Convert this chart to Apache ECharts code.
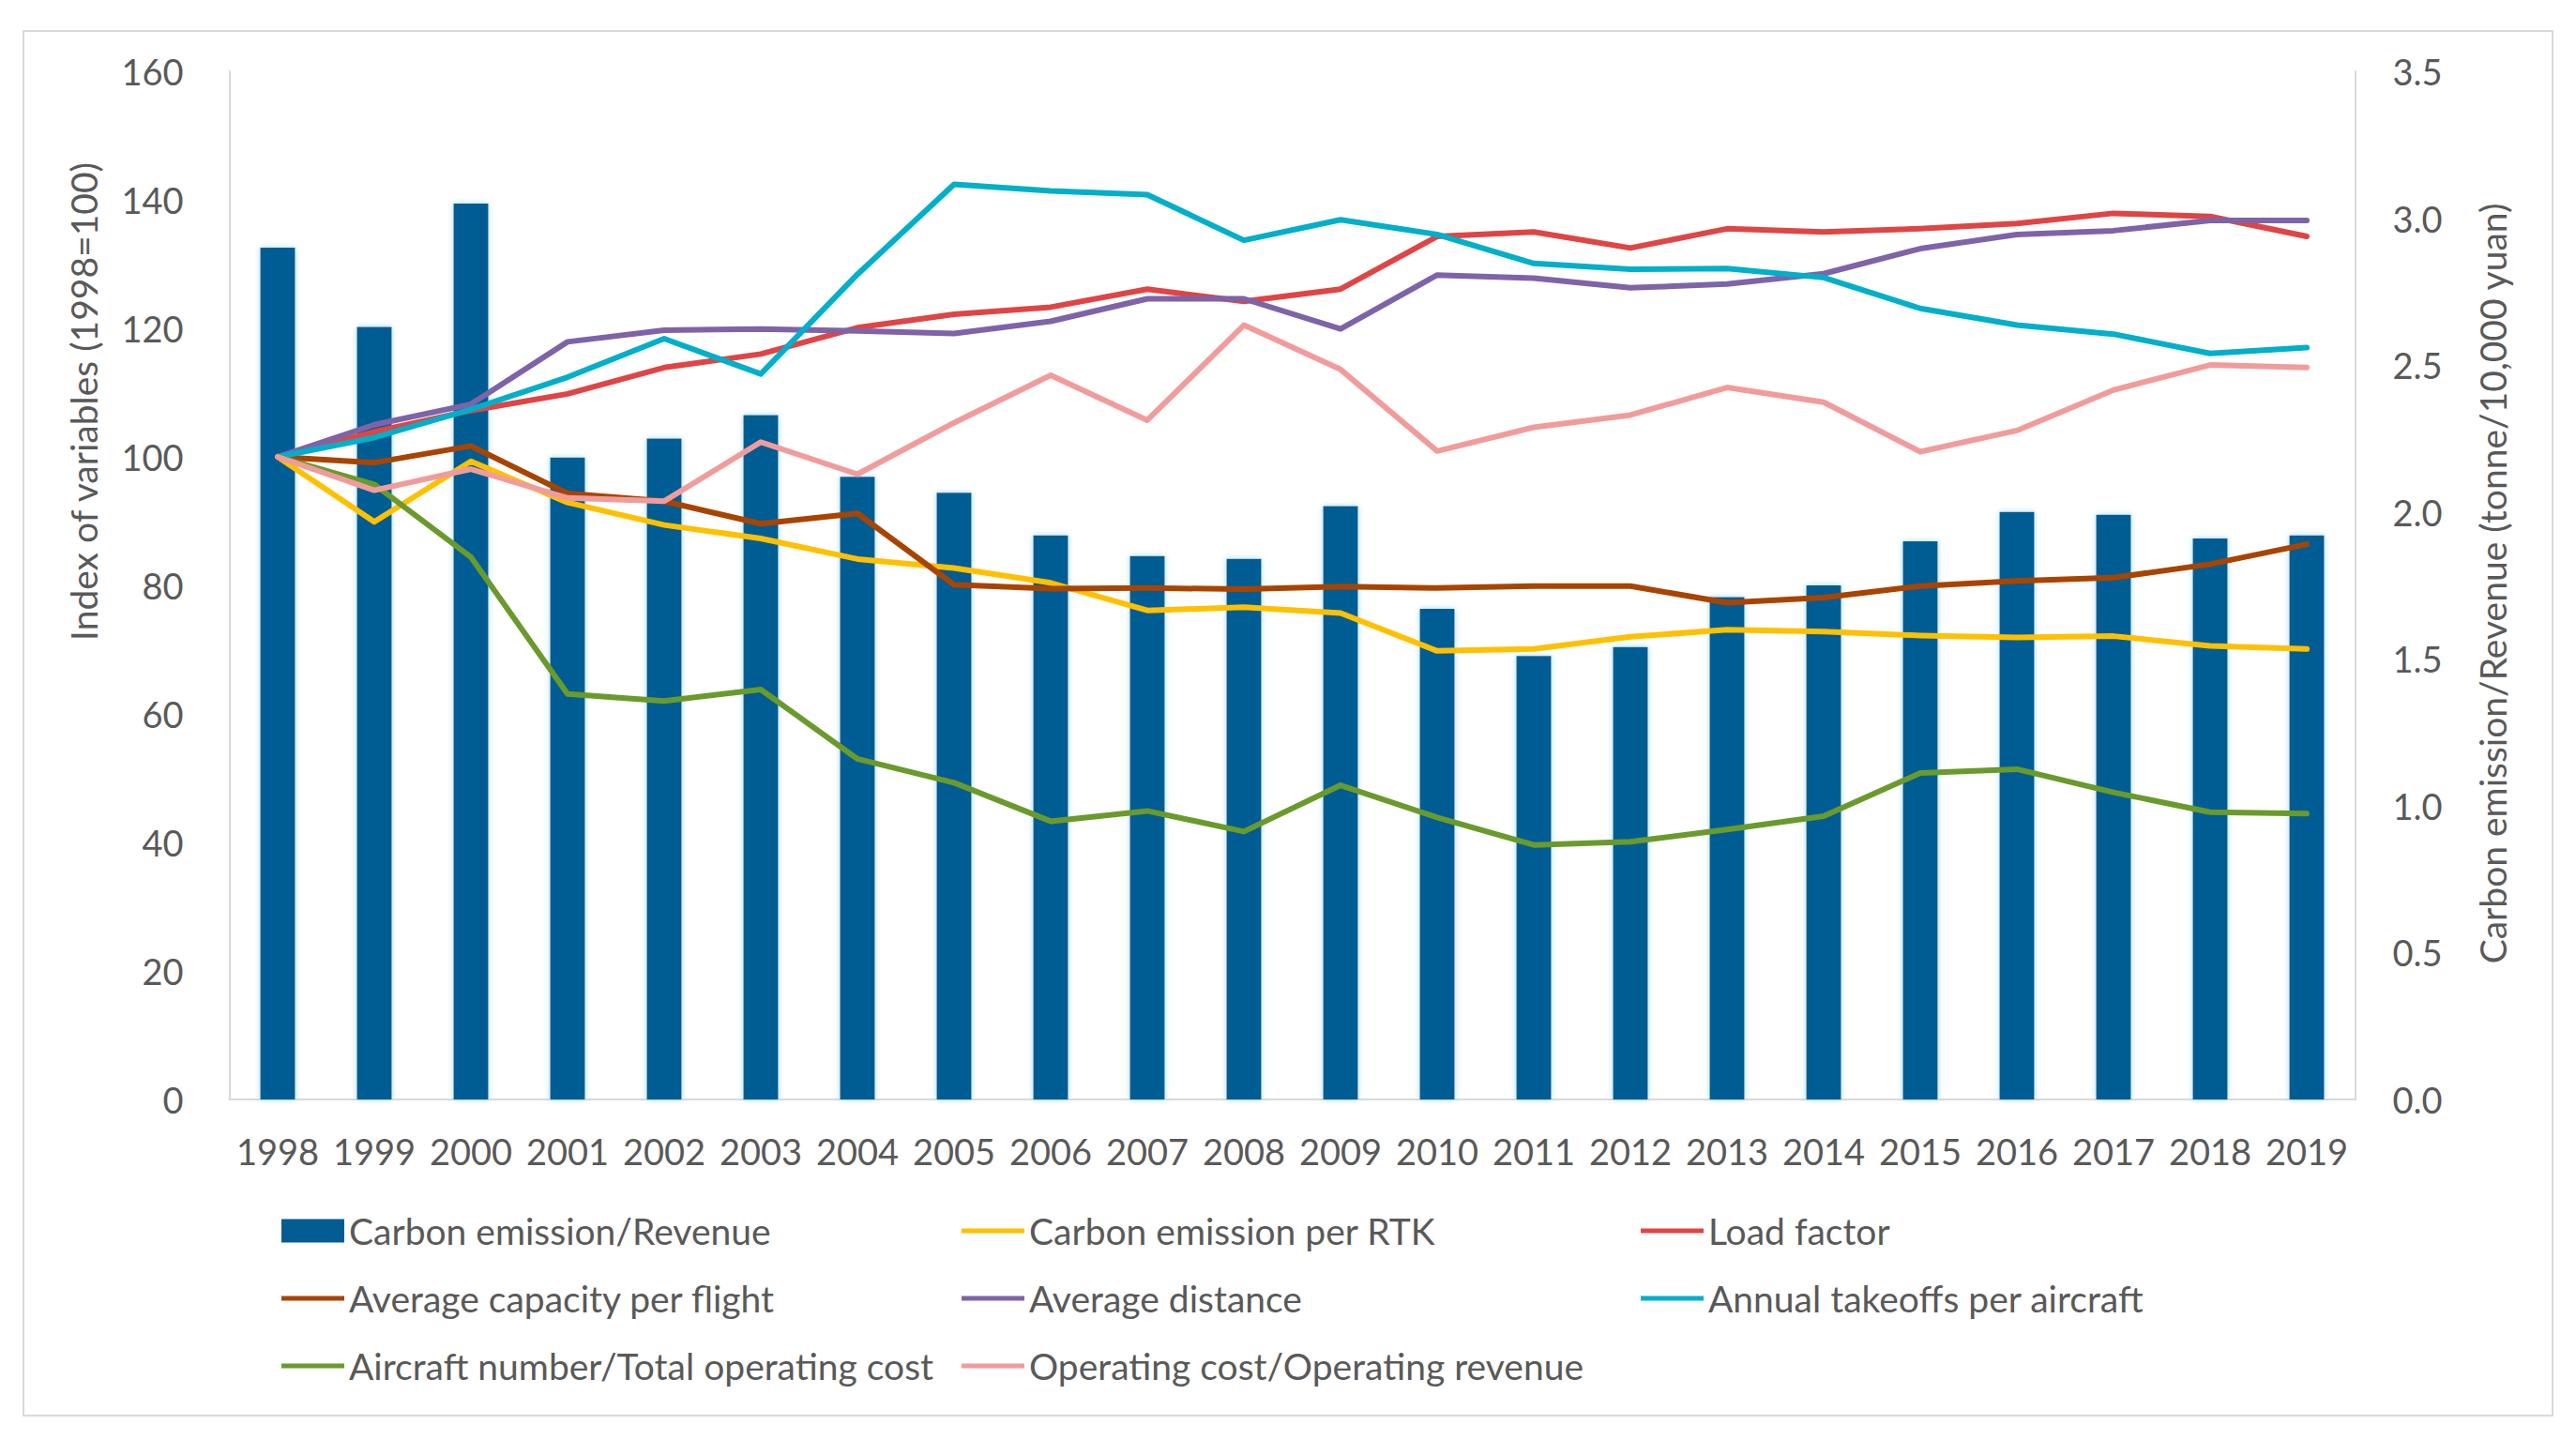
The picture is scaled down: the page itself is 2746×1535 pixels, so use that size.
<!DOCTYPE html>
<html>
<head>
<meta charset="utf-8">
<script src="https://cdn.jsdelivr.net/npm/echarts@6/dist/echarts.min.js"></script>
<style>
html,body{margin:0;padding:0;background:#fff;}
#chart{width:2746px;height:1535px;}
</style>
</head>
<body>
<div id="chart"></div>
<script>
const years = ['1998','1999','2000','2001','2002','2003','2004','2005','2006','2007','2008','2009','2010','2011','2012','2013','2014','2015','2016','2017','2018','2019'];
const leftTicks = [0,20,40,60,80,100,120,140,160];
const rightTicks = [0.0,0.5,1.0,1.5,2.0,2.5,3.0,3.5];

const carbonRevenue = [2.90, 2.63, 3.05, 2.185, 2.25, 2.33, 2.12, 2.065, 1.92, 1.85, 1.84, 2.02, 1.67, 1.51, 1.54, 1.71, 1.75, 1.90, 2.00, 1.99, 1.91, 1.92];
const carbonPerRTK = [100, 89.9, 99.3, 92.9, 89.4, 87.3, 84.1, 82.7, 80.4, 76.1, 76.6, 75.7, 69.8, 70.1, 72.0, 73.1, 72.8, 72.2, 71.9, 72.1, 70.6, 70.1];
const loadFactor = [100, 103.9, 107.2, 109.8, 113.9, 116.0, 120.1, 122.2, 123.3, 126.1, 124.2, 126.1, 134.3, 135.0, 132.5, 135.5, 135.0, 135.5, 136.3, 137.9, 137.4, 134.3];
const avgCapacity = [100, 99.1, 101.7, 94.3, 93.1, 89.6, 91.2, 80.1, 79.5, 79.6, 79.4, 79.8, 79.6, 79.9, 79.9, 77.3, 78.1, 79.9, 80.7, 81.2, 83.3, 86.4];
const avgDistance = [100, 105.0, 108.2, 117.9, 119.7, 119.9, 119.6, 119.2, 121.1, 124.6, 124.6, 119.9, 128.3, 127.8, 126.3, 126.9, 128.5, 132.4, 134.6, 135.2, 136.8, 136.8];
const takeoffs = [100, 103.0, 107.4, 112.4, 118.4, 112.9, 128.4, 142.4, 141.4, 140.8, 133.7, 136.9, 134.6, 130.1, 129.2, 129.3, 127.9, 123.1, 120.5, 119.1, 116.1, 117.0];
const aircraftCost = [100, 95.7, 84.4, 63.1, 62.0, 63.8, 53.0, 49.3, 43.3, 44.9, 41.7, 48.9, 43.9, 39.6, 40.1, 42.0, 44.1, 50.8, 51.4, 47.8, 44.7, 44.5];
const costRevenue = [100, 94.8, 98.1, 93.6, 93.1, 102.3, 97.3, 105.3, 112.7, 105.7, 120.5, 113.6, 100.9, 104.6, 106.5, 110.8, 108.5, 100.8, 104.1, 110.4, 114.3, 113.9];

const FONT = 'Lato, "Liberation Sans", sans-serif';
const TXT = '#595959';
const FS = 38;
const LINE_ICON = 'path://M0,0M67,25M0,10L67,10L67,15L0,15Z';

const chart = echarts.init(document.getElementById('chart'), null, {renderer: 'svg'});

function lineSeries(name, data, color) {
  return {
    name: name, type: 'line', data: data, yAxisIndex: 0,
    symbol: 'none', smooth: false, z: 3,
    lineStyle: {color: color, width: 6, cap: 'round', join: 'round'},
    itemStyle: {color: color}
  };
}
function lineItem(name) { return {name: name, icon: LINE_ICON}; }

const legendBase = {
  orient: 'vertical', top: 1287, itemWidth: 67, itemHeight: 25, itemGap: 32,
  textStyle: {color: TXT, fontSize: 39, fontFamily: FONT, lineHeight: 40},
  selectedMode: false
};

const option = {
  backgroundColor: '#ffffff',
  animation: false,
  textStyle: {fontFamily: FONT},
  grid: {left: 244.5, right: 235.5, top: 76, bottom: 363, containLabel: false},
  legend: [
    Object.assign({}, legendBase, {left: 295, data: [{name: 'Carbon emission/Revenue', icon: 'rect'}, lineItem('Average capacity per flight'), lineItem('Aircraft number/Total operating cost')]}),
    Object.assign({}, legendBase, {left: 1020, data: [lineItem('Carbon emission per RTK'), lineItem('Average distance'), lineItem('Operating cost/Operating revenue')]}),
    Object.assign({}, legendBase, {left: 1744, data: [lineItem('Load factor'), lineItem('Annual takeoffs per aircraft')]})
  ],
  xAxis: {
    type: 'category', data: years, boundaryGap: true,
    axisLine: {show: true, lineStyle: {color: '#d9d9d9', width: 2}},
    axisTick: {show: false},
    axisLabel: {color: TXT, fontSize: FS, fontFamily: FONT, margin: 36, interval: 0},
    splitLine: {show: false}
  },
  yAxis: [
    {
      type: 'value', min: leftTicks[0], max: leftTicks[leftTicks.length - 1], interval: 20,
      position: 'left',
      axisLine: {show: true, lineStyle: {color: '#d9d9d9', width: 2}},
      axisTick: {show: false},
      splitLine: {show: false},
      axisLabel: {color: TXT, fontSize: FS, fontFamily: FONT, margin: 49}
    },
    {
      type: 'value', min: rightTicks[0], max: rightTicks[rightTicks.length - 1], interval: 0.5,
      position: 'right',
      axisLine: {show: true, lineStyle: {color: '#d9d9d9', width: 2}},
      axisTick: {show: false},
      splitLine: {show: false},
      axisLabel: {color: TXT, fontSize: FS, fontFamily: FONT, margin: 40, formatter: v => v.toFixed(1)}
    }
  ],
  graphic: [
    {type: 'rect', shape: {x: 25, y: 33, width: 2696, height: 1476}, style: {fill: 'none', stroke: '#d9d9d9', lineWidth: 2}, silent: true, z: -10},
    {type: 'text', x: 89, y: 428, rotation: Math.PI / 2,
     style: {text: 'Index of variables (1998=100)', fill: TXT, fontSize: 39, fontFamily: FONT, align: 'center', verticalAlign: 'middle'}},
    {type: 'text', x: 2657, y: 622, rotation: Math.PI / 2,
     style: {text: 'Carbon emission/Revenue (tonne/10,000 yuan)', fill: TXT, fontSize: 39, fontFamily: FONT, align: 'center', verticalAlign: 'middle'}}
  ],
  series: [
    {
      name: 'Carbon emission/Revenue', type: 'bar', yAxisIndex: 1, data: carbonRevenue,
      barWidth: 37, z: 2,
      itemStyle: {color: '#035d93', shadowBlur: 6, shadowColor: 'rgba(150,215,240,0.9)'}
    },
    lineSeries('Carbon emission per RTK', carbonPerRTK, '#FFC000'),
    lineSeries('Load factor', loadFactor, '#DF4545'),
    lineSeries('Average capacity per flight', avgCapacity, '#A94400'),
    lineSeries('Average distance', avgDistance, '#7F63A8'),
    lineSeries('Annual takeoffs per aircraft', takeoffs, '#00AFC9'),
    lineSeries('Aircraft number/Total operating cost', aircraftCost, '#6A9A2C'),
    lineSeries('Operating cost/Operating revenue', costRevenue, '#F19C9C')
  ]
};
chart.setOption(option);
</script>
</body>
</html>
